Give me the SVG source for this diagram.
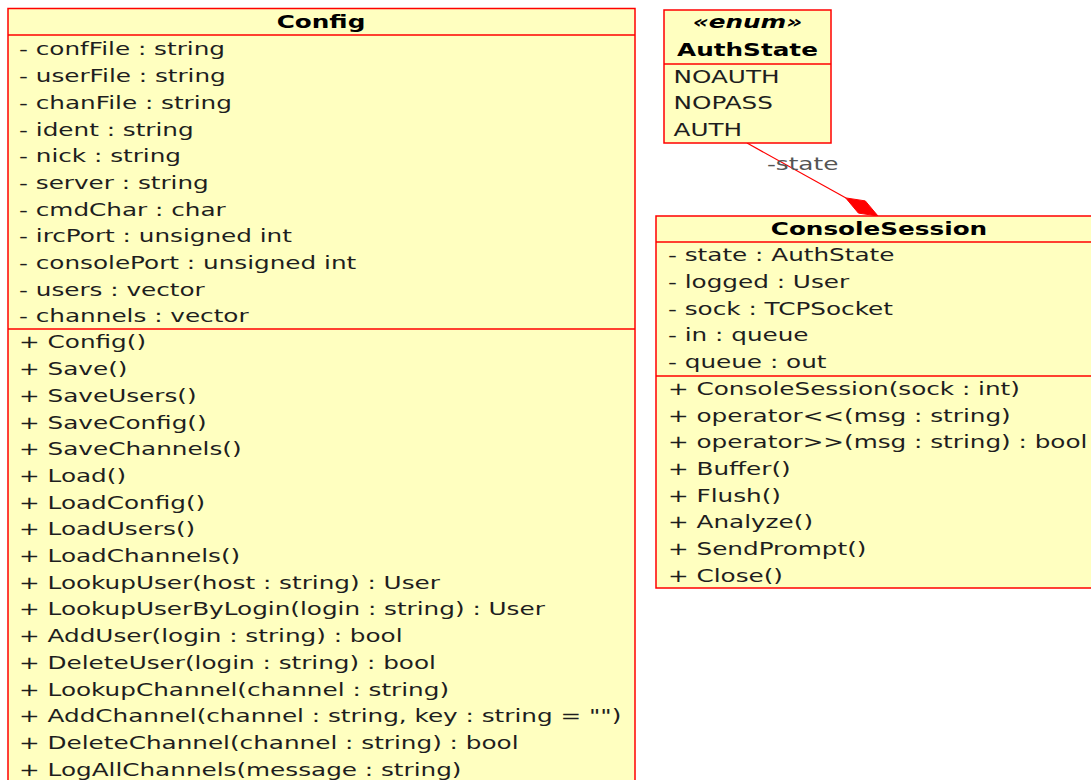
<svg xmlns="http://www.w3.org/2000/svg" width="1091" height="780" viewBox="0 0 1091 780">
<style>
.box{fill:#ffffc0;stroke:#ff0000;stroke-width:1.5}
.sep{stroke:#ff0000;stroke-width:1.5}
text{font-family:"DejaVu Sans","Verdana",sans-serif;font-size:18.3px;fill:#1e1e1e}
.t{font-weight:bold;text-anchor:middle;fill:#000}
.st{font-weight:bold;font-style:italic;text-anchor:middle;fill:#000}
.lbl{fill:#555555}
.edge{stroke:#ff0000;stroke-width:1.2;fill:none}
.dia{fill:#ff0000;stroke:#ff0000;stroke-width:1}
</style>
<rect width="1091" height="780" fill="#ffffff"/>
<g id="connectors">
<line class="edge" x1="747" y1="143" x2="846" y2="198"/>
<polygon class="dia" points="878,216 865.3,200.9 845.7,197.9 858.4,213.1"/>
<g transform="scale(1.35,1)"><text class="lbl" x="568.1" y="170">-state</text></g>
</g>
<g id="Config">
<rect class="box" x="8" y="8.5" width="627" height="800"/>
<line class="sep" x1="8" y1="35" x2="635" y2="35"/>
<line class="sep" x1="8" y1="329" x2="635" y2="329"/>
<g transform="scale(1.35,1)">
<text class="t" x="237.8" y="28">Config</text>
<text x="14.1" y="55.5">- confFile : string</text>
<text x="14.1" y="82.2">- userFile : string</text>
<text x="14.1" y="108.9">- chanFile : string</text>
<text x="14.1" y="135.6">- ident : string</text>
<text x="14.1" y="162.3">- nick : string</text>
<text x="14.1" y="189">- server : string</text>
<text x="14.1" y="215.7">- cmdChar : char</text>
<text x="14.1" y="242.4">- ircPort : unsigned int</text>
<text x="14.1" y="269.1">- consolePort : unsigned int</text>
<text x="14.1" y="295.8">- users : vector</text>
<text x="14.1" y="322.5">- channels : vector</text>
<text x="14.1" y="348.5">+ Config()</text>
<text x="14.1" y="375.2">+ Save()</text>
<text x="14.1" y="401.9">+ SaveUsers()</text>
<text x="14.1" y="428.6">+ SaveConfig()</text>
<text x="14.1" y="455.3">+ SaveChannels()</text>
<text x="14.1" y="482">+ Load()</text>
<text x="14.1" y="508.7">+ LoadConfig()</text>
<text x="14.1" y="535.4">+ LoadUsers()</text>
<text x="14.1" y="562.1">+ LoadChannels()</text>
<text x="14.1" y="588.8">+ LookupUser(host : string) : User</text>
<text x="14.1" y="615.5">+ LookupUserByLogin(login : string) : User</text>
<text x="14.1" y="642.2">+ AddUser(login : string) : bool</text>
<text x="14.1" y="668.9">+ DeleteUser(login : string) : bool</text>
<text x="14.1" y="695.6">+ LookupChannel(channel : string)</text>
<text x="14.1" y="722.3">+ AddChannel(channel : string, key : string = "")</text>
<text x="14.1" y="749">+ DeleteChannel(channel : string) : bool</text>
<text x="14.1" y="775.7">+ LogAllChannels(message : string)</text>
</g>
</g>
<g id="AuthState">
<rect class="box" x="664" y="10" width="167" height="133"/>
<line class="sep" x1="664" y1="64" x2="831" y2="64"/>
<g transform="scale(1.35,1)">
<text class="st" x="553.7" y="28">«enum»</text>
<text class="t" x="553.7" y="56">AuthState</text>
<text x="498.9" y="82.7">NOAUTH</text>
<text x="498.9" y="109.3">NOPASS</text>
<text x="498.9" y="136">AUTH</text>
</g>
</g>
<g id="ConsoleSession">
<rect class="box" x="656" y="216" width="446" height="372"/>
<line class="sep" x1="656" y1="242" x2="1102" y2="242"/>
<line class="sep" x1="656" y1="376" x2="1102" y2="376"/>
<g transform="scale(1.35,1)">
<text class="t" x="651.1" y="235">ConsoleSession</text>
<text x="494.8" y="261.2">- state : AuthState</text>
<text x="494.8" y="287.9">- logged : User</text>
<text x="494.8" y="314.6">- sock : TCPSocket</text>
<text x="494.8" y="341.3">- in : queue</text>
<text x="494.8" y="368">- queue : out</text>
<text x="494.8" y="395">+ ConsoleSession(sock : int)</text>
<text x="494.8" y="421.7">+ operator&lt;&lt;(msg : string)</text>
<text x="494.8" y="448.4">+ operator&gt;&gt;(msg : string) : bool</text>
<text x="494.8" y="475.1">+ Buffer()</text>
<text x="494.8" y="501.8">+ Flush()</text>
<text x="494.8" y="528.5">+ Analyze()</text>
<text x="494.8" y="555.2">+ SendPrompt()</text>
<text x="494.8" y="581.9">+ Close()</text>
</g>
</g>
</svg>
